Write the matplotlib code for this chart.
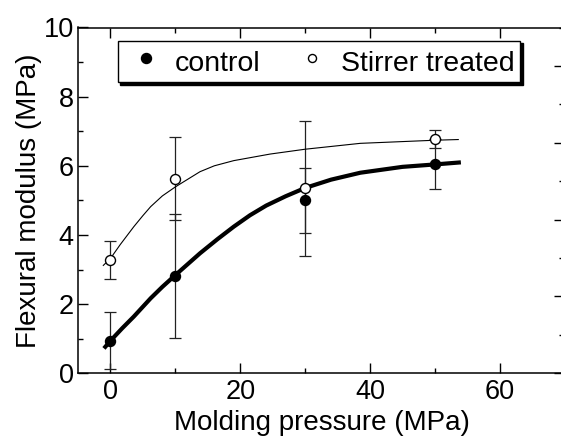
import matplotlib
matplotlib.use("Agg")
import matplotlib.pyplot as plt

plt.rcParams['font.family'] = ['Liberation Sans', 'DejaVu Sans']

# measured points
pressure = [0, 10, 30, 50]
control = [0.94, 2.82, 5.00, 6.05]
control_err = [0.82, 1.80, 0.93, 0.72]
stirrer = [3.29, 5.63, 5.35, 6.78]
stirrer_err = [0.55, 1.20, 1.95, 0.26]

# fitted curves
control_fit_x = [-1.0, 0, 1.8, 3.6, 6.2, 8, 10, 13.8, 16.5, 19, 21.5, 24, 27,
                 30, 34, 38.5, 45, 50, 54]
control_fit_y = [0.72, 0.94, 1.30, 1.64, 2.17, 2.50, 2.84, 3.47, 3.88, 4.24,
                 4.57, 4.85, 5.12, 5.36, 5.60, 5.80, 5.97, 6.04, 6.10]
stirrer_fit_x = [-1.1, 0, 1.5, 3.6, 5, 6.2, 8, 10, 13.8, 16, 19, 24.6, 30,
                 38.5, 50, 53.6]
stirrer_fit_y = [3.12, 3.32, 3.72, 4.24, 4.56, 4.82, 5.13, 5.39, 5.83, 6.00,
                 6.15, 6.34, 6.48, 6.65, 6.74, 6.76]

TICK_FS = 19.5
LABEL_FS = 20
LEG_FS = 20.5

fig = plt.figure(figsize=(5.61, 4.41), dpi=100)
ax = fig.add_axes([78 / 561, 67.7 / 441, 488 / 561, 345.8 / 441])

ax.errorbar(pressure, control, yerr=control_err, fmt='none', ecolor='#222222',
            elinewidth=0.9, capsize=4, capthick=0.9, zorder=2)
ax.errorbar(pressure, stirrer, yerr=stirrer_err, fmt='none', ecolor='#222222',
            elinewidth=0.9, capsize=4, capthick=0.9, zorder=2)

ax.plot(control_fit_x, control_fit_y, color='black', lw=3.0,
        solid_joinstyle='round', solid_capstyle='butt', zorder=3)
ax.plot(stirrer_fit_x, stirrer_fit_y, color='black', lw=0.8,
        solid_joinstyle='round', zorder=3)

ax.plot(pressure, control, 'o', color='black', ms=7.2, label='control', zorder=4)
ax.plot(pressure, stirrer, 'o', mfc='white', mec='black', mew=1.0, ms=7.2,
        label='Stirrer treated', zorder=4)

ax.set_xlim(-5, 70.2)
ax.set_ylim(0, 10)
ax.set_xticks([0, 20, 40, 60])
ax.set_xticks([10, 30, 50], minor=True)
ax.set_yticks([0, 2, 4, 6, 8, 10])
ax.set_yticks([1, 3, 5, 7, 9], minor=True)

ax.tick_params(which='both', direction='in', top=True, right=False, width=1.0,
               labelsize=TICK_FS)
ax.tick_params(which='major', length=7)
ax.tick_params(which='minor', length=3.5)
ax.tick_params(axis='y', pad=3)
ax.tick_params(axis='x', pad=4)
for sp in ax.spines.values():
    sp.set_linewidth(1.1)
ax.spines['right'].set_visible(False)

ax.set_xlabel('Molding pressure (MPa)', fontsize=LABEL_FS, labelpad=4)
ax.set_ylabel('Flexural modulus (MPa)', fontsize=LABEL_FS, labelpad=1)

# right side ticks use their own spacing
ax2 = ax.twinx()
ax2.set_ylim(0, 9)
ax2.set_yticks([0, 2, 4, 6, 8])
ax2.set_yticks([1, 3, 5, 7, 9], minor=True)
ax2.tick_params(which='both', direction='in', labelright=False, width=1.0)
ax2.tick_params(which='major', length=9)
ax2.tick_params(which='minor', length=5)
for name, sp in ax2.spines.items():
    sp.set_visible(False)

leg = ax.legend(loc='upper left', bbox_to_anchor=(0.081, 0.962), borderaxespad=0,
                ncol=2, fontsize=LEG_FS, fancybox=False, edgecolor='black',
                framealpha=1, shadow={'color': 'black', 'alpha': 1},
                handlelength=1.6, handletextpad=0.22, columnspacing=0.99,
                borderpad=0.2, handleheight=1.2)
leg.get_frame().set_linewidth(1.0)
leg.legend_handles[0].set_markersize(7.2)
leg.legend_handles[1].set_markersize(5.8)
leg.set_zorder(10)

fig.savefig('out.png', dpi=100)
